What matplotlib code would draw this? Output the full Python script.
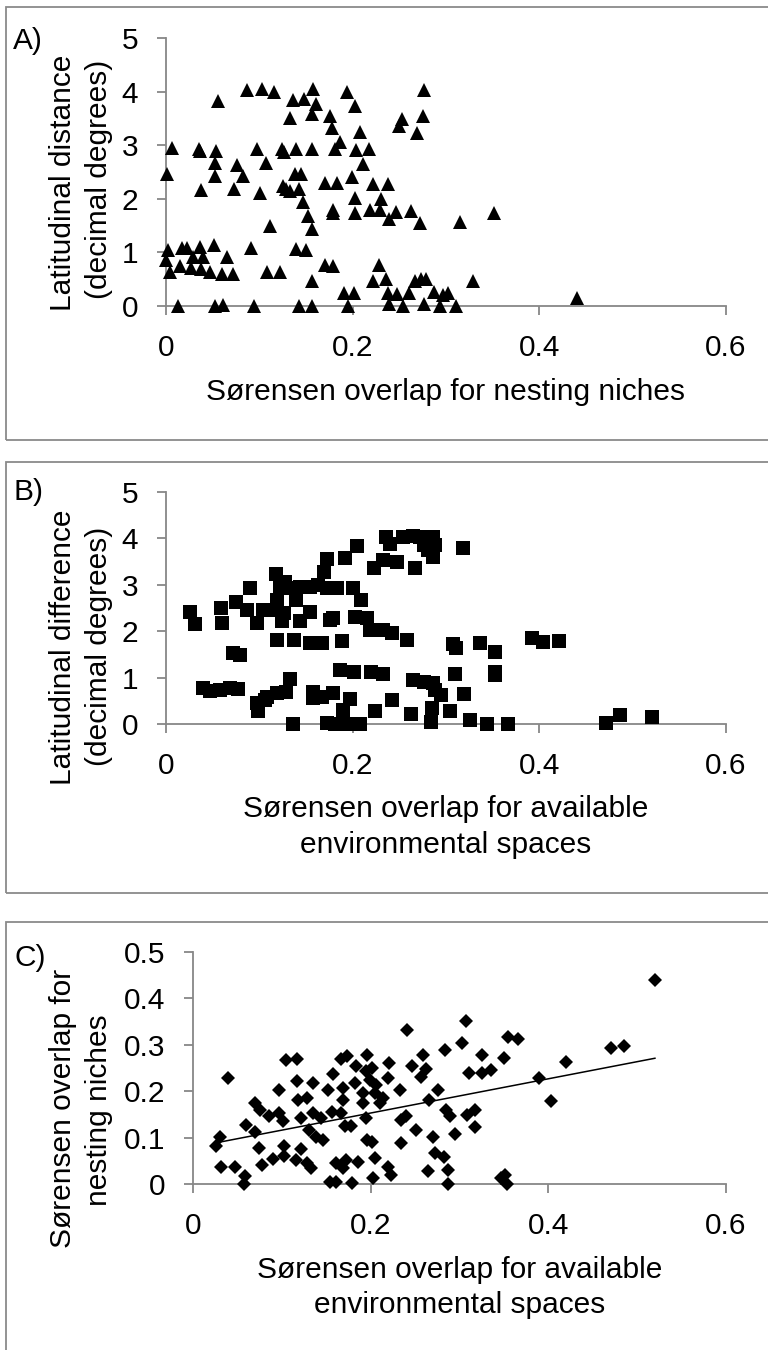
import matplotlib
matplotlib.use('Agg')
import matplotlib.pyplot as plt
import numpy as np
from matplotlib.patches import Rectangle

plt.rcParams['font.family'] = ['Liberation Sans', 'DejaVu Sans']

# ---------------- data ----------------
# Panel A: Sorensen overlap for nesting niches vs latitudinal distance
nest_overlap_A = [0.087, 0.1025, 0.116, 0.157, 0.194, 0.276, 0.056, 0.136, 0.148, 0.161,
                  0.202, 0.156, 0.176, 0.133, 0.178, 0.253, 0.25, 0.275, 0.269, 0.208,
                  0.186, 0.181, 0.006, 0.035, 0.036, 0.054, 0.053, 0.053, 0.097, 0.124,
                  0.126, 0.139, 0.156, 0.204, 0.218, 0.211, 0.107, 0.076, 0.083, 0.0014,
                  0.037, 0.073, 0.101, 0.125, 0.129, 0.133, 0.138, 0.145, 0.142, 0.147,
                  0.152, 0.156, 0.170, 0.183, 0.199, 0.202, 0.203, 0.179, 0.179, 0.222,
                  0.238, 0.230, 0.219, 0.229, 0.239, 0.246, 0.263, 0.272, 0.315, 0.351,
                  0.111, 0.002, 0.0, 0.004, 0.017, 0.023, 0.015, 0.036, 0.029, 0.040,
                  0.027, 0.038, 0.051, 0.047, 0.065, 0.060, 0.072, 0.091, 0.108, 0.122,
                  0.139, 0.150, 0.156, 0.170, 0.179, 0.191, 0.201, 0.195, 0.228, 0.222,
                  0.236, 0.238, 0.247, 0.239, 0.254, 0.260, 0.267, 0.273, 0.279, 0.287,
                  0.297, 0.302, 0.276, 0.294, 0.311, 0.329, 0.013, 0.0525, 0.061, 0.094,
                  0.142, 0.156, 0.44]
lat_dist_A = [4.03, 4.05, 4.0, 4.05, 4.0, 4.03, 3.83, 3.85, 3.86, 3.77,
              3.74, 3.58, 3.55, 3.52, 3.33, 3.5, 3.36, 3.54, 3.23, 3.25,
              3.06, 2.93, 2.96, 2.94, 2.9, 2.9, 2.68, 2.43, 2.94, 2.94,
              2.88, 2.93, 2.93, 2.91, 2.93, 2.66, 2.68, 2.63, 2.43, 2.47,
              2.16, 2.19, 2.11, 2.24, 2.18, 2.14, 2.46, 2.46, 2.18, 1.94,
              1.68, 1.43, 2.3, 2.29, 2.41, 2.02, 1.74, 1.8, 1.74, 2.28,
              2.28, 1.99, 1.8, 1.79, 1.63, 1.75, 1.77, 1.55, 1.57, 1.74,
              1.5, 1.05, 0.86, 0.64, 1.08, 1.08, 0.74, 1.1, 0.91, 0.91,
              0.71, 0.69, 1.13, 0.64, 0.91, 0.6, 0.6, 1.09, 0.63, 0.63,
              1.06, 1.05, 0.46, 0.77, 0.75, 0.25, 0.25, 0.0, 0.77, 0.47,
              0.5, 0.24, 0.23, 0.04, 0.0, 0.24, 0.46, 0.5, 0.5, 0.27,
              0.21, 0.24, 0.04, 0.0, 0.0, 0.47, 0.0, 0.0, 0.02, 0.0,
              0.0, 0.0, 0.15]

# Panel B: Sorensen overlap for available environmental spaces vs latitudinal difference
env_overlap_B = [0.236, 0.24, 0.254, 0.265, 0.272, 0.279, 0.286, 0.276, 0.288, 0.281,
                 0.286, 0.318, 0.205, 0.192, 0.173, 0.169, 0.223, 0.233, 0.247, 0.267,
                 0.118, 0.128, 0.090, 0.122, 0.133, 0.144, 0.154, 0.163, 0.172, 0.183,
                 0.2, 0.209, 0.139, 0.119, 0.075, 0.059, 0.026, 0.031, 0.06, 0.087,
                 0.104, 0.097, 0.113, 0.126, 0.124, 0.144, 0.154, 0.176, 0.179, 0.2025,
                 0.215, 0.219, 0.233, 0.242, 0.258, 0.119, 0.137, 0.154, 0.167, 0.189,
                 0.308, 0.311, 0.336, 0.353, 0.392, 0.404, 0.421, 0.072, 0.079, 0.31,
                 0.353, 0.353, 0.186, 0.201, 0.220, 0.233, 0.265, 0.276, 0.286, 0.288,
                 0.295, 0.319, 0.04, 0.047, 0.058, 0.069, 0.077, 0.133, 0.129, 0.119,
                 0.108, 0.097, 0.099, 0.106, 0.158, 0.158, 0.167, 0.179, 0.197, 0.19,
                 0.224, 0.242, 0.262, 0.285, 0.284, 0.304, 0.326, 0.344, 0.366, 0.136,
                 0.172, 0.181, 0.19, 0.196, 0.208, 0.471, 0.486, 0.521]
lat_diff_B = [4.04, 3.88, 4.04, 4.06, 4.04, 4.04, 4.04, 3.86, 3.86, 3.76,
              3.6, 3.79, 3.84, 3.58, 3.55, 3.27, 3.37, 3.54, 3.5, 3.36,
              3.24, 3.07, 2.93, 2.96, 2.93, 2.96, 2.96, 3.0, 2.93, 2.93,
              2.93, 2.68, 2.68, 2.68, 2.64, 2.5, 2.42, 2.16, 2.17, 2.46,
              2.46, 2.17, 2.46, 2.39, 2.21, 2.21, 2.42, 2.24, 2.28, 2.3,
              2.28, 2.03, 2.03, 1.96, 1.8, 1.81, 1.8, 1.74, 1.74, 1.78,
              1.73, 1.63, 1.74, 1.56, 1.85, 1.76, 1.78, 1.54, 1.49, 1.08,
              1.13, 1.06, 1.17, 1.13, 1.13, 1.08, 0.94, 0.91, 0.88, 0.73,
              0.63, 0.65, 0.77, 0.72, 0.73, 0.77, 0.75, 0.96, 0.70, 0.66,
              0.59, 0.45, 0.27, 0.52, 0.70, 0.55, 0.59, 0.66, 0.53, 0.3,
              0.27, 0.52, 0.22, 0.34, 0.05, 0.27, 0.09, 0.0, 0.0, 0.0,
              0.03, 0.01, 0.05, 0.0, 0.0, 0.03, 0.19, 0.145]

# Panel C: Sorensen overlap for available environmental spaces vs nesting niches
env_overlap_C = [0.52, 0.471, 0.485, 0.42, 0.389, 0.403, 0.355, 0.366, 0.35, 0.307,
                 0.303, 0.284, 0.241, 0.325, 0.311, 0.325, 0.336, 0.259, 0.247, 0.262,
                 0.257, 0.276, 0.266, 0.285, 0.289, 0.308, 0.318, 0.318, 0.295, 0.27,
                 0.251, 0.233, 0.234, 0.240, 0.234, 0.272, 0.283, 0.287, 0.264, 0.287,
                 0.347, 0.353, 0.351, 0.196, 0.167, 0.173, 0.184, 0.195, 0.201, 0.221,
                 0.219, 0.199, 0.206, 0.182, 0.169, 0.158, 0.152, 0.191, 0.205, 0.214,
                 0.21, 0.191, 0.169, 0.105, 0.117, 0.039, 0.097, 0.117, 0.135, 0.118,
                 0.128, 0.07, 0.075, 0.086, 0.097, 0.101, 0.122, 0.135, 0.144, 0.156,
                 0.167, 0.195, 0.06, 0.07, 0.03, 0.026, 0.074, 0.102, 0.122, 0.131,
                 0.139, 0.146, 0.171, 0.178, 0.196, 0.202, 0.205, 0.032, 0.047, 0.078,
                 0.09, 0.103, 0.116, 0.128, 0.133, 0.161, 0.169, 0.172, 0.186, 0.219,
                 0.223, 0.058, 0.057, 0.154, 0.161, 0.179, 0.203]
nest_overlap_C = [0.44, 0.293, 0.298, 0.262, 0.228, 0.179, 0.316, 0.313, 0.272, 0.351,
                  0.303, 0.288, 0.331, 0.277, 0.239, 0.239, 0.246, 0.277, 0.254, 0.248,
                  0.231, 0.202, 0.182, 0.16, 0.147, 0.149, 0.16, 0.122, 0.107, 0.102,
                  0.117, 0.203, 0.138, 0.146, 0.088, 0.066, 0.059, 0.03, 0.029, 0.0,
                  0.014, 0.001, 0.019, 0.279, 0.269, 0.275, 0.254, 0.243, 0.25, 0.261,
                  0.228, 0.225, 0.214, 0.218, 0.207, 0.238, 0.202, 0.196, 0.196, 0.185,
                  0.174, 0.174, 0.182, 0.267, 0.269, 0.228, 0.202, 0.221, 0.218, 0.18,
                  0.185, 0.174, 0.16, 0.147, 0.153, 0.135, 0.142, 0.153, 0.142, 0.156,
                  0.153, 0.142, 0.128, 0.111, 0.102, 0.082, 0.077, 0.082, 0.075, 0.117,
                  0.102, 0.095, 0.124, 0.124, 0.095, 0.091, 0.055, 0.037, 0.037, 0.041,
                  0.053, 0.06, 0.052, 0.045, 0.034, 0.045, 0.034, 0.052, 0.048, 0.037,
                  0.019, 0.017, 0.0, 0.005, 0.005, 0.003, 0.012]

x_ticks = [0, 0.2, 0.4, 0.6]
x_ticklabels = ['0', '0.2', '0.4', '0.6']
y_ticks_AB = [0, 1, 2, 3, 4, 5]
y_ticklabels_AB = ['0', '1', '2', '3', '4', '5']
y_ticks_C = [0, 0.1, 0.2, 0.3, 0.4, 0.5]
y_ticklabels_C = ['0', '0.1', '0.2', '0.3', '0.4', '0.5']

# ---------------- figure ----------------
W, H = 768, 1350
FS = 21.5
GRAY = '#878787'
fig = plt.figure(figsize=(W / 100, H / 100), dpi=100)


def fx(x):
    return x / W


def fy(y):
    return 1 - y / H


def make_ax(l, r, t, b):
    return fig.add_axes([l / W, 1 - b / H, (r - l) / W, (b - t) / H])


def style(ax, xt, xtl, yt, ytl, ylim):
    ax.set_xlim(0, 0.6)
    ax.set_ylim(*ylim)
    ax.set_xticks(xt)
    ax.set_xticklabels(xtl)
    ax.set_yticks(yt)
    ax.set_yticklabels(ytl)
    for s in ['top', 'right']:
        ax.spines[s].set_visible(False)
    for s in ['left', 'bottom']:
        ax.spines[s].set_color(GRAY)
        ax.spines[s].set_linewidth(1.3)
    ax.tick_params(direction='out', length=6.5, width=1.3, color=GRAY,
                   labelsize=FS, pad=13.5)
    ax.patch.set_alpha(0)


# panel frames
for top, bot in [(7, 440), (462, 893), (922, 1355)]:
    fig.patches.append(Rectangle((fx(6), fy(bot)), (775 - 6) / W, (bot - top) / H,
                                 transform=fig.transFigure, fill=False,
                                 ec='#8a8a8a', lw=1.3))

# Panel A
axA = make_ax(166, 726, 38.3, 306)
style(axA, x_ticks, x_ticklabels, y_ticks_AB, y_ticklabels_AB, (0, 5))
axA.plot(nest_overlap_A, lat_dist_A, ls='none', marker='^', ms=10.5, mfc='black',
         mec='black', mew=0, clip_on=False, zorder=3)

# Panel B
axB = make_ax(166, 726, 492, 724)
style(axB, x_ticks, x_ticklabels, y_ticks_AB, y_ticklabels_AB, (0, 5))
axB.plot(env_overlap_B, lat_diff_B, ls='none', marker='s', ms=9.4, mfc='black',
         mec='black', mew=0, clip_on=False, zorder=3)

# Panel C
axC = make_ax(193, 726, 952, 1184)
style(axC, x_ticks, x_ticklabels, y_ticks_C, y_ticklabels_C, (0, 0.5))
axC.plot(env_overlap_C, nest_overlap_C, ls='none', marker='D', ms=6.8, mfc='black',
         mec='black', mew=0, clip_on=False, zorder=3)
xc = np.array(env_overlap_C)
yc = np.array(nest_overlap_C)
slope, intercept = np.polyfit(xc, yc, 1)
xl = np.array([xc.min(), xc.max()])
axC.plot(xl, slope * xl + intercept, color='black', lw=1.1, zorder=4)

# texts
def rot(x, y, s):
    fig.text(fx(x), fy(y), s, rotation=90, rotation_mode='anchor',
             ha='center', va='baseline', fontsize=FS)


def hor(x, y, s):
    fig.text(fx(x), fy(y), s, ha='center', va='baseline', fontsize=FS)


fig.text(fx(13), fy(49), 'A)', ha='left', va='baseline', fontsize=FS)
fig.text(fx(13), fy(500), 'B)', ha='left', va='baseline', fontsize=FS)
fig.text(fx(14), fy(966), 'C)', ha='left', va='baseline', fontsize=FS)

rot(71, 183, 'Latitudinal distance')
rot(107, 179, '(decimal degrees)')
hor(446, 400, 'Sørensen overlap for nesting niches')

rot(71, 647, 'Latitudinal difference')
rot(107, 646, '(decimal degrees)')
hor(446, 817, 'Sørensen overlap for available')
hor(446, 853, 'environmental spaces')

rot(71, 1108, 'Sørensen overlap for')
rot(107, 1110, 'nesting niches')
hor(460, 1278, 'Sørensen overlap for available')
hor(460, 1313, 'environmental spaces')

fig.savefig('out.png', dpi=100)
